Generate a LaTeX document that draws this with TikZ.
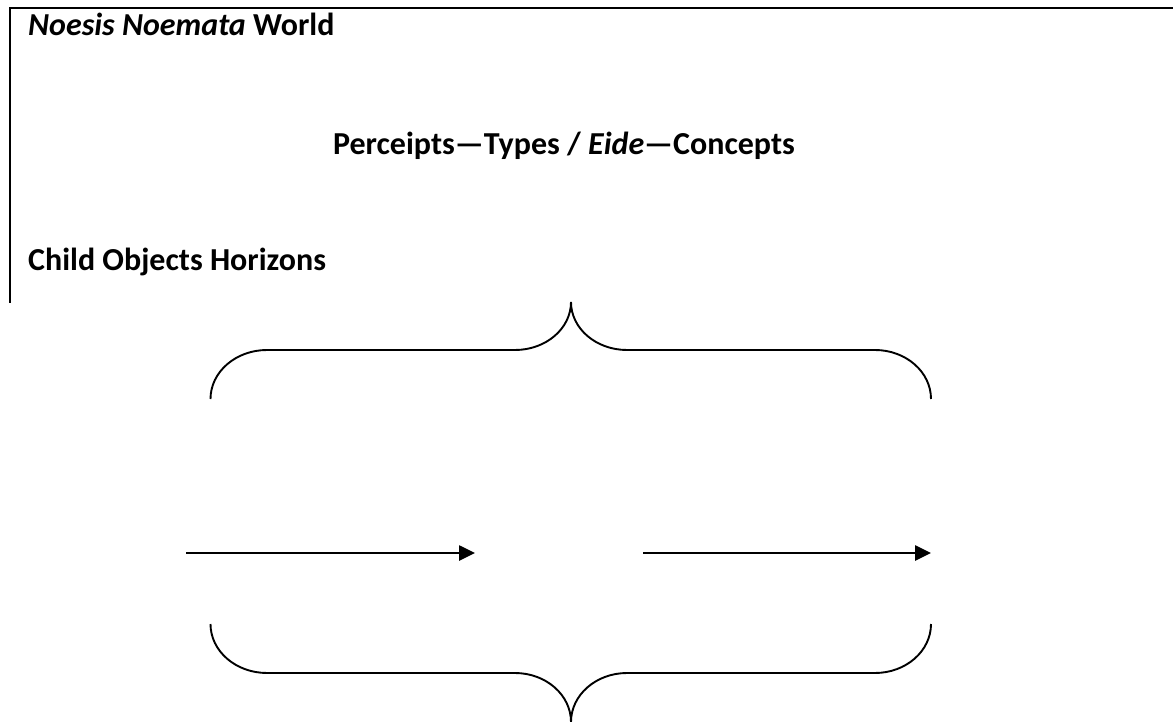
\documentclass[tikz,border=0pt]{standalone}
\usepackage{fontspec}
\setmainfont{Carlito}
\usetikzlibrary{arrows.meta}
\tikzset{
  frame/.style={line width=2.6pt, line cap=rect},
  brace/.style={line width=1.9pt},
  arr/.style={line width=2.6pt, -{Triangle[length=16pt,width=15pt]}},
  lbl/.style={anchor=base west, inner sep=0pt, font=\bfseries\fontsize{32}{38}\selectfont},
}
\begin{document}
\begin{tikzpicture}[x=1pt,y=-1pt]
\useasboundingbox (0,0) rectangle (1173,722);
% frame (top and left edges)
\coordinate (fl) at (10,302);
\coordinate (tl) at (10,8);
\coordinate (tr) at (1173,8);
\draw[frame] (fl) -- (tl) -- (tr);
% texts
\node[lbl] (title) at (28,36) {\textit{Noesis Noemata} World};
\node[lbl, anchor=base] (mid) at (564,155) {Perceipts—Types / \textit{Eide}—Concepts};
\node[lbl] (child) at (28,270) {Child Objects Horizons};
% top brace
\draw[brace] (210.5,399) arc[start angle=-180,end angle=-90,x radius=56.5,y radius=49]
  -- (515,350) arc[start angle=-270,end angle=-360,x radius=56,y radius=48]
  arc[start angle=-180,end angle=-270,x radius=56,y radius=48]
  -- (875,350) arc[start angle=-90,end angle=0,x radius=56,y radius=49];
% bottom brace
\draw[brace] (210.5,624) arc[start angle=-180,end angle=-270,x radius=56.5,y radius=49]
  -- (515,673) arc[start angle=-90,end angle=0,x radius=56,y radius=49]
  arc[start angle=-180,end angle=-90,x radius=56,y radius=49]
  -- (875,673) arc[start angle=-270,end angle=-360,x radius=56,y radius=49];
% arrows
\coordinate (a1s) at (186,553);
\coordinate (a1e) at (475,553);
\coordinate (a2s) at (643,553);
\coordinate (a2e) at (931,553);
\draw[arr] (a1s) -- (a1e);
\draw[arr] (a2s) -- (a2e);
\end{tikzpicture}
\end{document}
